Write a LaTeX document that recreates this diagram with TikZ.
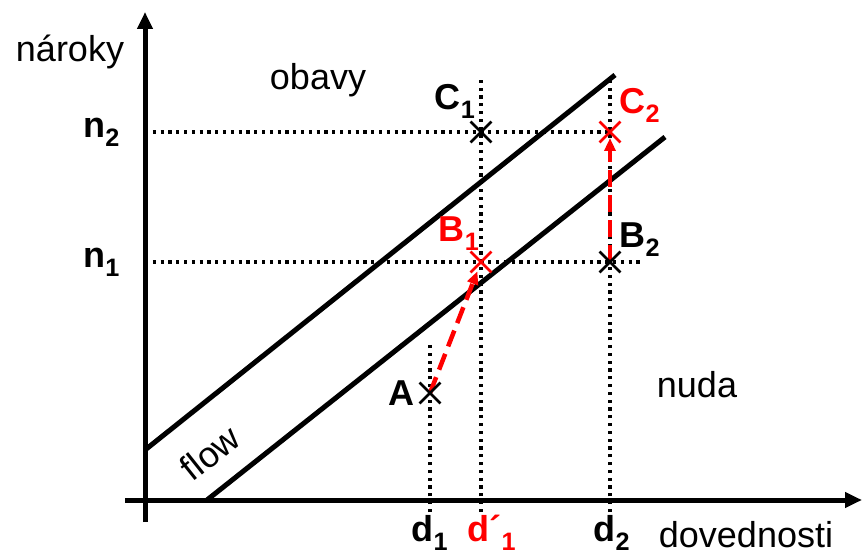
\documentclass[tikz,border=0pt]{standalone}
\usepackage{fontspec}
\setmainfont{Liberation Sans}
\usepackage{tikz}
\usetikzlibrary{arrows.meta,positioning,shapes.misc}

\begin{document}
\begin{tikzpicture}[
  x=1pt, y=1pt,
  font=\fontsize{36}{40}\selectfont,
  axis/.style={line width=5pt, -{Triangle[length=17pt,width=15pt]}},
  band/.style={line width=5pt},
  guide/.style={line width=3.2pt, dash pattern=on 3.2pt off 4.6pt},
  xmark/.style={cross out, draw, line width=2.8pt, minimum size=18pt, inner sep=0pt},
  move/.style={red, line width=4.5pt, dash pattern=on 17pt off 8pt,
               -{Triangle[length=13pt,width=11pt]}},
  lbl/.style={inner sep=1pt, font=\fontsize{36}{40}\selectfont\bfseries}
]
\useasboundingbox (0,0) rectangle (863,555);
% axes
\coordinate (ybot) at (145,33);
\coordinate (ytop) at (145,543);
\coordinate (xl) at (125,55);
\coordinate (xr) at (862,55);
\draw[axis] (ybot) -- (ytop);
\draw[axis] (xl) -- (xr);
% flow channel
\coordinate (u0) at (145,105);
\coordinate (u1) at (615,480);
\coordinate (l0) at (207,55);
\coordinate (l1) at (665,418);
\draw[band] (u0) -- (u1);
\draw[band] (l0) -- (l1);
% states
\coordinate (A) at (430,162);
\coordinate (B1) at (481,293);
\coordinate (B2) at (610,293);
\coordinate (C1) at (481,423);
\coordinate (C2) at (610,423);
% guides
\coordinate (n2) at (145,423);
\coordinate (n1) at (145,293);
\coordinate (n1e) at (643,293);
\coordinate (d1) at (430,43);
\coordinate (d1t) at (430,212);
\coordinate (dd1) at (481,43);
\coordinate (dd1t) at (481,475);
\coordinate (d2) at (610,43);
\coordinate (d2t) at (610,475);
\draw[guide] (n2) -- (C2);
\draw[guide] (n1) -- (n1e);
\draw[guide] (d1) -- (d1t);
\draw[guide] (dd1) -- (dd1t);
\draw[guide] (d2) -- (d2t);
% moves
\draw[move, shorten >=10pt] (A) -- (B1);
\draw[move, shorten >=6pt] (B2) -- (C2);
\node[xmark] (mA) at (A) {};
\node[xmark] (mC1) at (C1) {};
\node[xmark] (mB2) at (B2) {};
\node[xmark, red] (mB1) at (B1) {};
\node[xmark, red] (mC2) at (C2) {};
% labels
\node[lbl, left=4pt of mA] (tA) {A};
\node[lbl, above left=2pt and -6pt of mC1] (tC1) {C\textsubscript{1}};
\node[lbl, red, above right=-2pt and -2pt of mC2] (tC2) {C\textsubscript{2}};
\node[lbl, red, above left=0pt and -10pt of mB1] (tB1) {B\textsubscript{1}};
\node[lbl, above right=-6pt and -2pt of mB2] (tB2) {B\textsubscript{2}};
\node[lbl, left=24pt of n2] (tn2) {n\textsubscript{2}};
\node[lbl, left=24pt of n1] (tn1) {n\textsubscript{1}};
\node[lbl] (td1) at (430,22) {d\textsubscript{1}};
\node[lbl, red] (tdd1) at (492,22) {d´\textsubscript{1}};
\node[lbl] (td2) at (612,22) {d\textsubscript{2}};
\node (tx) at (746,20) {dovednosti};
\node (ty) at (70,503) {nároky};
\node (obavy) at (318,475) {obavy};
\node (nuda) at (697,170) {nuda};
\node[rotate=38.5] (flow) at (210,102) {flow};
\end{tikzpicture}
\end{document}
